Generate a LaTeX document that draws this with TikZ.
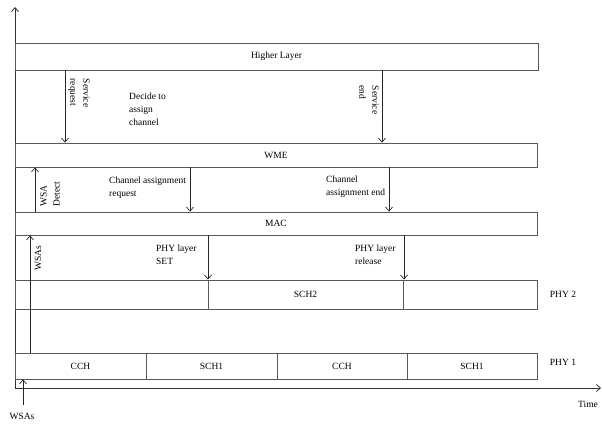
\documentclass[tikz,border=0pt]{standalone}
\usepackage{fontspec}
\setmainfont{Liberation Serif}
\usetikzlibrary{arrows.meta}
\begin{document}
\begin{tikzpicture}[x=1pt,y=-1pt,
  every node/.style={font=\fontsize{9.5}{13}\selectfont, inner sep=0pt},
  layer/.style={draw=black!65, line width=0.8pt, minimum height=#1, anchor=center},
  lbl/.style={align=left},
  arr/.style={draw=black!85, line width=0.7pt, -{Straight Barb[length=4pt,width=7pt]}},
  axis/.style={draw=black!80, line width=0.8pt}]
\useasboundingbox (0,0) rectangle (602,423);
% axes
\coordinate (O) at (15,388);
\coordinate (Ytop) at (15,7);
\coordinate (Xend) at (601,388);
\draw[axis,-{Straight Barb[length=4pt,width=7pt]}] (O) -- (Ytop);
\draw[axis,-{Straight Barb[length=4pt,width=7pt]}] (O) -- (Xend);
% layers
\node[layer=27pt, minimum width=523pt] (HL) at (276.5,56.5) {Higher Layer};
\node[layer=24pt, minimum width=522pt] (WME) at (276,155) {WME};
\node[layer=23pt, minimum width=522pt] (MAC) at (276,223.5) {MAC};
\node[layer=29pt, minimum width=522pt] (PHY2) at (276,294.5) {};
\node[layer=29pt, minimum width=195pt, line width=1pt] (SCH2) at (305.5,294.5) {SCH2};
\node[layer=26pt, minimum width=131pt] (CCHa) at (80.5,366) {CCH};
\node[layer=26pt, minimum width=131pt] (SCHa) at (211.5,366) {SCH1};
\node[layer=26pt, minimum width=130pt] (CCHb) at (342,366) {CCH};
\node[layer=26pt, minimum width=130pt] (SCHb) at (472,366) {SCH1};
% side labels
\node (lphy2) at (563,294) {PHY 2};
\node (lphy1) at (563,362) {PHY 1};
\node (ltime) at (588,404) {Time};
\node (lwsab) at (22,416) {WSAs};
% arrow x positions
\coordinate (xsr) at (65,0);
\coordinate (xse) at (382,0);
\coordinate (xwd) at (35,0);
\coordinate (xcr) at (190,0);
\coordinate (xce) at (389,0);
\coordinate (xws) at (30,0);
\coordinate (xps) at (208,0);
\coordinate (xpr) at (404,0);
\coordinate (wsab) at (23,405);
% arrows
\draw[arr] (xsr |- HL.south) -- (xsr |- WME.north);
\draw[arr] (xse |- HL.south) -- (xse |- WME.north);
\draw[arr] (xwd |- MAC.north) -- (xwd |- WME.south);
\draw[arr] (xcr |- WME.south) -- (xcr |- MAC.north);
\draw[arr] (xce |- WME.south) -- (xce |- MAC.north);
\draw[arr] (xws |- CCHa.north) -- (xws |- MAC.south);
\draw[arr] (xps |- MAC.south) -- (xps |- SCH2.north);
\draw[arr] (xpr |- MAC.south) -- (xpr |- SCH2.north);
\draw[arr] (wsab) -- (wsab |- CCHa.south);
% labels
\node[lbl, rotate=-90] (tsr) at (79,93) {Service\\request};
\node[lbl, rotate=-90] (tse) at (369,100) {Service\\end};
\node[lbl, rotate=90] (twd) at (50,194) {WSA\\Detect};
\node[lbl, rotate=90] (tws) at (38,258) {WSAs};
\node[lbl, anchor=west] (tdc) at (129,109) {Decide to\\assign\\channel};
\node[lbl, anchor=west] (tcr) at (109,188) {Channel assignment\\request};
\node[lbl, anchor=west] (tce) at (326,187) {Channel\\assignment end};
\node[lbl, anchor=west] (tps) at (156,255) {PHY layer\\SET};
\node[lbl, anchor=west] (tpr) at (355,255) {PHY layer\\release};
\end{tikzpicture}
\end{document}
